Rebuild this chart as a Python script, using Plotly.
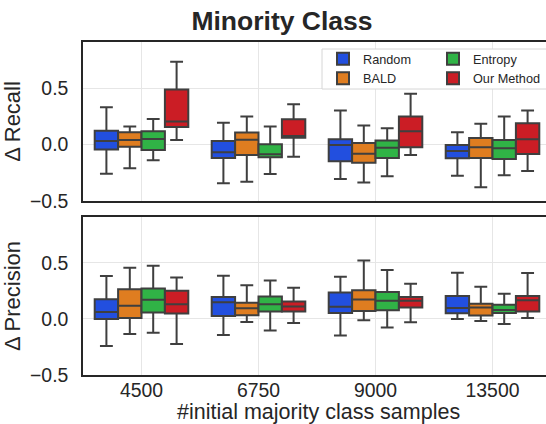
import plotly.graph_objects as go
from plotly.subplots import make_subplots

# Initial majority-class sample counts (x categories)
categories = ["4500", "6750", "9000", "13500"]
methods = ["Random", "BALD", "Entropy", "Our Method"]
colors = ["#224fdf", "#df7d20", "#30b346", "#cb1d25"]

# Δ Recall box statistics per method: [4500, 6750, 9000, 13500]
recall_lower = {
    "Random": [-0.258, -0.343, -0.305, -0.275],
    "BALD": [-0.210, -0.329, -0.337, -0.379],
    "Entropy": [-0.139, -0.260, -0.281, -0.272],
    "Our Method": [0.042, -0.107, -0.092, -0.234],
}
recall_q1 = {
    "Random": [-0.044, -0.118, -0.148, -0.121],
    "BALD": [-0.018, -0.092, -0.160, -0.118],
    "Entropy": [-0.047, -0.113, -0.118, -0.127],
    "Our Method": [0.157, 0.062, -0.024, -0.083],
}
recall_median = {
    "Random": [0.033, -0.068, -0.003, -0.056],
    "BALD": [0.042, 0.044, -0.080, -0.024],
    "Entropy": [0.050, -0.086, -0.027, -0.033],
    "Our Method": [0.204, 0.077, 0.118, 0.047],
}
recall_q3 = {
    "Random": [0.124, 0.033, 0.047, -0.003],
    "BALD": [0.109, 0.107, 0.015, 0.059],
    "Entropy": [0.118, 0.003, 0.036, 0.042],
    "Our Method": [0.488, 0.225, 0.249, 0.189],
}
recall_upper = {
    "Random": [0.331, 0.193, 0.302, 0.109],
    "BALD": [0.160, 0.249, 0.169, 0.186],
    "Entropy": [0.228, 0.160, 0.145, 0.249],
    "Our Method": [0.734, 0.358, 0.450, 0.302],
}

# Δ Precision box statistics per method: [4500, 6750, 9000, 13500]
precision_lower = {
    "Random": [-0.242, -0.144, -0.147, 0.000],
    "BALD": [-0.135, -0.027, -0.012, -0.018],
    "Entropy": [-0.123, -0.102, -0.075, -0.045],
    "Our Method": [-0.224, -0.036, -0.030, 0.009],
}
precision_q1 = {
    "Random": [0.000, 0.027, 0.054, 0.051],
    "BALD": [0.009, 0.033, 0.072, 0.030],
    "Entropy": [0.057, 0.066, 0.078, 0.054],
    "Our Method": [0.048, 0.066, 0.102, 0.066],
}
precision_median = {
    "Random": [0.063, 0.150, 0.108, 0.099],
    "BALD": [0.117, 0.096, 0.173, 0.102],
    "Entropy": [0.171, 0.132, 0.162, 0.081],
    "Our Method": [0.132, 0.111, 0.162, 0.168],
}
precision_q3 = {
    "Random": [0.177, 0.197, 0.236, 0.204],
    "BALD": [0.266, 0.144, 0.257, 0.135],
    "Entropy": [0.272, 0.200, 0.240, 0.126],
    "Our Method": [0.251, 0.156, 0.195, 0.206],
}
precision_upper = {
    "Random": [0.383, 0.386, 0.377, 0.413],
    "BALD": [0.458, 0.302, 0.521, 0.287],
    "Entropy": [0.476, 0.344, 0.437, 0.224],
    "Our Method": [0.371, 0.278, 0.314, 0.410],
}

y_ticks = [-0.5, 0.0, 0.5]
y_tick_text = ["\u22120.5", "0.0", "0.5"]

FONT = "Liberation Sans, Arial, sans-serif"
TEXT = "#262626"
EDGE = "#3f3f3f"

W, H = 546, 424
M_L, M_R, M_T, M_B = 83, 0, 42, 49
PLOT_W = W - M_L - M_R
PLOT_H = H - M_T - M_B


def py(px_y):
    """Pixel row -> paper y inside the plot area."""
    return (H - M_B - px_y) / PLOT_H


def px(px_x):
    """Pixel column -> paper x inside the plot area."""
    return (px_x - M_L) / PLOT_W


fig = make_subplots(rows=2, cols=1, shared_xaxes=False, vertical_spacing=0.05)

legend_of = {"Random": "legend", "BALD": "legend", "Entropy": "legend2", "Our Method": "legend2"}

panels = [
    (1, recall_lower, recall_q1, recall_median, recall_q3, recall_upper),
    (2, precision_lower, precision_q1, precision_median, precision_q3, precision_upper),
]
for row, lo, q1, med, q3, hi in panels:
    for m, c in zip(methods, colors):
        fig.add_trace(
            go.Box(
                x=categories,
                lowerfence=lo[m],
                q1=q1[m],
                median=med[m],
                q3=q3[m],
                upperfence=hi[m],
                name=m,
                legendgroup=m,
                legend=legend_of[m],
                showlegend=(row == 1),
                fillcolor=c,
                line=dict(color=EDGE, width=2),
                whiskerwidth=0.55,
                boxpoints=False,
                offsetgroup=m,
            ),
            row=row,
            col=1,
        )

x_range = [-0.5, -0.5 + PLOT_W / 117.0]

fig.update_layout(
    width=W,
    height=H,
    margin=dict(l=M_L, r=M_R, t=M_T, b=M_B, autoexpand=False),
    paper_bgcolor="white",
    plot_bgcolor="white",
    boxmode="group",
    boxgap=0.2,
    boxgroupgap=0.0,
    font=dict(family=FONT, color=TEXT),
    title=dict(
        text="<b>Minority Class</b>",
        x=282 / W,
        xref="container",
        xanchor="center",
        y=1 - 21 / H,
        yref="container",
        yanchor="middle",
        font=dict(size=26.5, family=FONT, color=TEXT),
    ),
    legend=dict(
        x=px(323), y=py(44), xanchor="left", yanchor="top",
        bgcolor="rgba(0,0,0,0)", borderwidth=0,
        font=dict(size=12.7, family=FONT, color=TEXT),
        tracegroupgap=0, itemwidth=30,
    ),
    legend2=dict(
        x=px(433), y=py(44), xanchor="left", yanchor="top",
        bgcolor="rgba(0,0,0,0)", borderwidth=0,
        font=dict(size=12.7, family=FONT, color=TEXT),
        tracegroupgap=0, itemwidth=30,
    ),
)

# Legend frame behind the two legend columns
fig.add_shape(
    type="rect", xref="paper", yref="paper",
    x0=px(322), x1=px(560), y0=py(89), y1=py(49),
    fillcolor="white", line=dict(color="#d6d6d6", width=1), layer="above",
)

fig.update_layout(
    yaxis=dict(domain=[py(201), 1.0]),
    yaxis2=dict(domain=[0.0, py(217)]),
)

axis_common = dict(
    showgrid=True,
    gridcolor="#e6e6e6",
    gridwidth=1,
    zeroline=False,
    showline=True,
    linecolor=TEXT,
    linewidth=1.6,
    ticks="",
    automargin=False,
    tickfont=dict(size=19.4, family=FONT, color=TEXT),
)

for r in (1, 2):
    fig.update_xaxes(
        type="category",
        categoryorder="array",
        categoryarray=categories,
        range=x_range,
        mirror=True,
        showticklabels=(r == 2),
        ticklabelstandoff=-3,
        row=r,
        col=1,
        **axis_common,
    )
    fig.update_yaxes(
        range=[-0.5, 0.91],
        tickvals=y_ticks,
        ticktext=y_tick_text,
        mirror=False,
        ticklabelstandoff=9,
        row=r,
        col=1,
        **axis_common,
    )

fig.update_yaxes(title=dict(text="\u0394 Recall", font=dict(size=22, family=FONT, color=TEXT), standoff=6), row=1, col=1)
fig.update_yaxes(title=dict(text="\u0394 Precision", font=dict(size=22, family=FONT, color=TEXT), standoff=6), row=2, col=1)

# x-axis title for the shared category axis
fig.add_annotation(
    text="#initial majority class samples",
    xref="paper", yref="paper",
    x=px(318), y=py(412),
    xanchor="center", yanchor="middle",
    showarrow=False,
    font=dict(size=21.5, family=FONT, color=TEXT),
)

fig.write_html("out.html")
